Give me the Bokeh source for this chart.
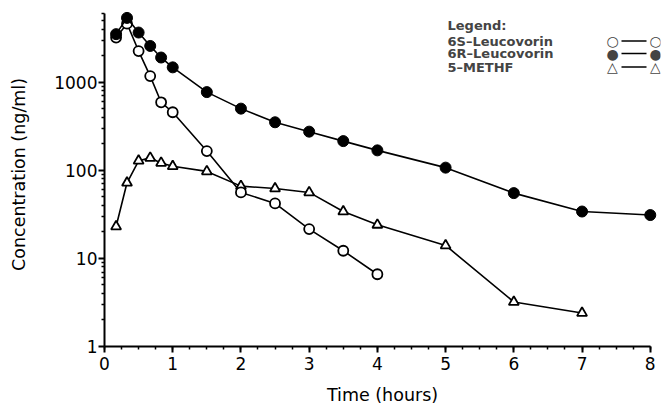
from bokeh.plotting import figure
from bokeh.models import FixedTicker, Label, Arrow
from bokeh.embed import file_html
from bokeh.resources import INLINE

# Data
t_6s = [0.17, 0.33, 0.5, 0.67, 0.83, 1.0, 1.5, 2.0, 2.5, 3.0, 3.5, 4.0]
c_6s = [3200, 4600, 2250, 1170, 590, 455, 165, 56, 42, 21.5, 12.2, 6.6]

t_6r = [0.17, 0.33, 0.5, 0.67, 0.83, 1.0, 1.5, 2.0, 2.5, 3.0, 3.5, 4.0, 5.0, 6.0, 7.0, 8.0]
c_6r = [3500, 5350, 3650, 2570, 1900, 1470, 770, 500, 350, 274, 214, 168, 107, 55, 34, 31]

t_m = [0.17, 0.33, 0.5, 0.67, 0.83, 1.0, 1.5, 2.0, 2.5, 3.0, 3.5, 4.0, 5.0, 6.0, 7.0]
c_m = [23, 72, 128, 138, 121, 111, 97, 66, 62, 56, 34, 24, 14, 3.2, 2.4]

x_ticks = [0, 1, 2, 3, 4, 5, 6, 7, 8]
y_ticks = [1, 10, 100, 1000]
legend_names = ["6S\u2013Leucovorin", "6R\u2013Leucovorin", "5\u2013METHF"]
legend_marks = ["\u25cb", "\u25cf", "\u25b3"]

FONT = "DejaVu Sans"

p = figure(width=662, height=407, y_axis_type="log",
           x_range=(0, 8.15), y_range=(1, 8000),
           output_backend="svg", toolbar_location=None,
           min_border_left=104, min_border_right=2,
           min_border_top=2, min_border_bottom=50)
p.outline_line_color = None
p.xgrid.visible = False
p.ygrid.visible = False
p.background_fill_color = "white"

# series
p.line(t_m, c_m, line_color="black", line_width=1.6)
p.scatter(t_m, c_m, marker="triangle", size=10, fill_color="white",
          line_color="black", line_width=1.8)
p.line(t_6s, c_6s, line_color="black", line_width=1.6)
p.scatter(t_6s, c_6s, marker="circle", size=10, fill_color="white",
          line_color="black", line_width=1.8)
p.line(t_6r, c_6r, line_color="black", line_width=1.6)
p.scatter(t_6r, c_6r, marker="circle", size=11, fill_color="black",
          line_color="black")

# axes
xa = p.xaxis[0]
xa.ticker = FixedTicker(ticks=x_ticks,
                        minor_ticks=[i * 0.25 for i in range(33)])
xa.bounds = (0, 8)
ya = p.yaxis[0]
minors = []
for d in [1, 10, 100, 1000]:
    for m in range(2, 10):
        if d * m <= 6000:
            minors.append(d * m)
ya.ticker = FixedTicker(ticks=y_ticks, minor_ticks=minors)
ya.bounds = (1, 6000)
ya.major_label_overrides = {1: "1", 10: "10", 100: "100", 1000: "1000"}

for ax in (xa, ya):
    ax.axis_line_color = "black"
    ax.axis_line_width = 2
    ax.major_tick_line_color = "black"
    ax.major_tick_line_width = 2
    ax.minor_tick_line_color = "black"
    ax.minor_tick_line_width = 1.5
    ax.major_tick_out = 6
    ax.major_tick_in = 0
    ax.minor_tick_out = 3
    ax.minor_tick_in = 0
    ax.major_label_text_font = FONT
    ax.major_label_text_font_size = "17px"
    ax.major_label_text_color = "black"
    ax.axis_label_text_font = FONT
    ax.axis_label_text_font_size = "17.5px"
    ax.axis_label_text_font_style = "normal"
    ax.axis_label_text_color = "black"

xa.axis_label = "Time (hours)"
xa.major_label_standoff = 4
xa.axis_label_standoff = 12
ya.axis_label = "Concentration (ng/ml)"
ya.major_label_standoff = 1
ya.axis_label_standoff = 22

# legend (screen units: relative to the plot frame, y upwards)
LX = 343
p.add_layout(Label(x=LX, y=321.5, x_units="screen", y_units="screen",
                   text="Legend:", text_font=FONT, text_font_size="13px",
                   text_font_style="bold", text_baseline="middle"))
rows = [305.5, 293, 279.5]
for name, mark, ry in zip(legend_names, legend_marks, rows):
    p.add_layout(Label(x=LX, y=ry, x_units="screen", y_units="screen",
                       text=name, text_font=FONT, text_font_size="13px",
                       text_font_style="bold", text_baseline="middle"))
    for mx in (508, 551):
        p.add_layout(Label(x=mx, y=ry, x_units="screen", y_units="screen",
                           text=mark, text_font=FONT, text_font_size="14px",
                           text_align="center", text_baseline="middle"))
    p.add_layout(Arrow(end=None, x_start=517, x_end=542, y_start=ry,
                       y_end=ry, start_units="screen", end_units="screen",
                       line_color="black", line_width=1.6))

open("out.html", "w").write(file_html(p, INLINE))
